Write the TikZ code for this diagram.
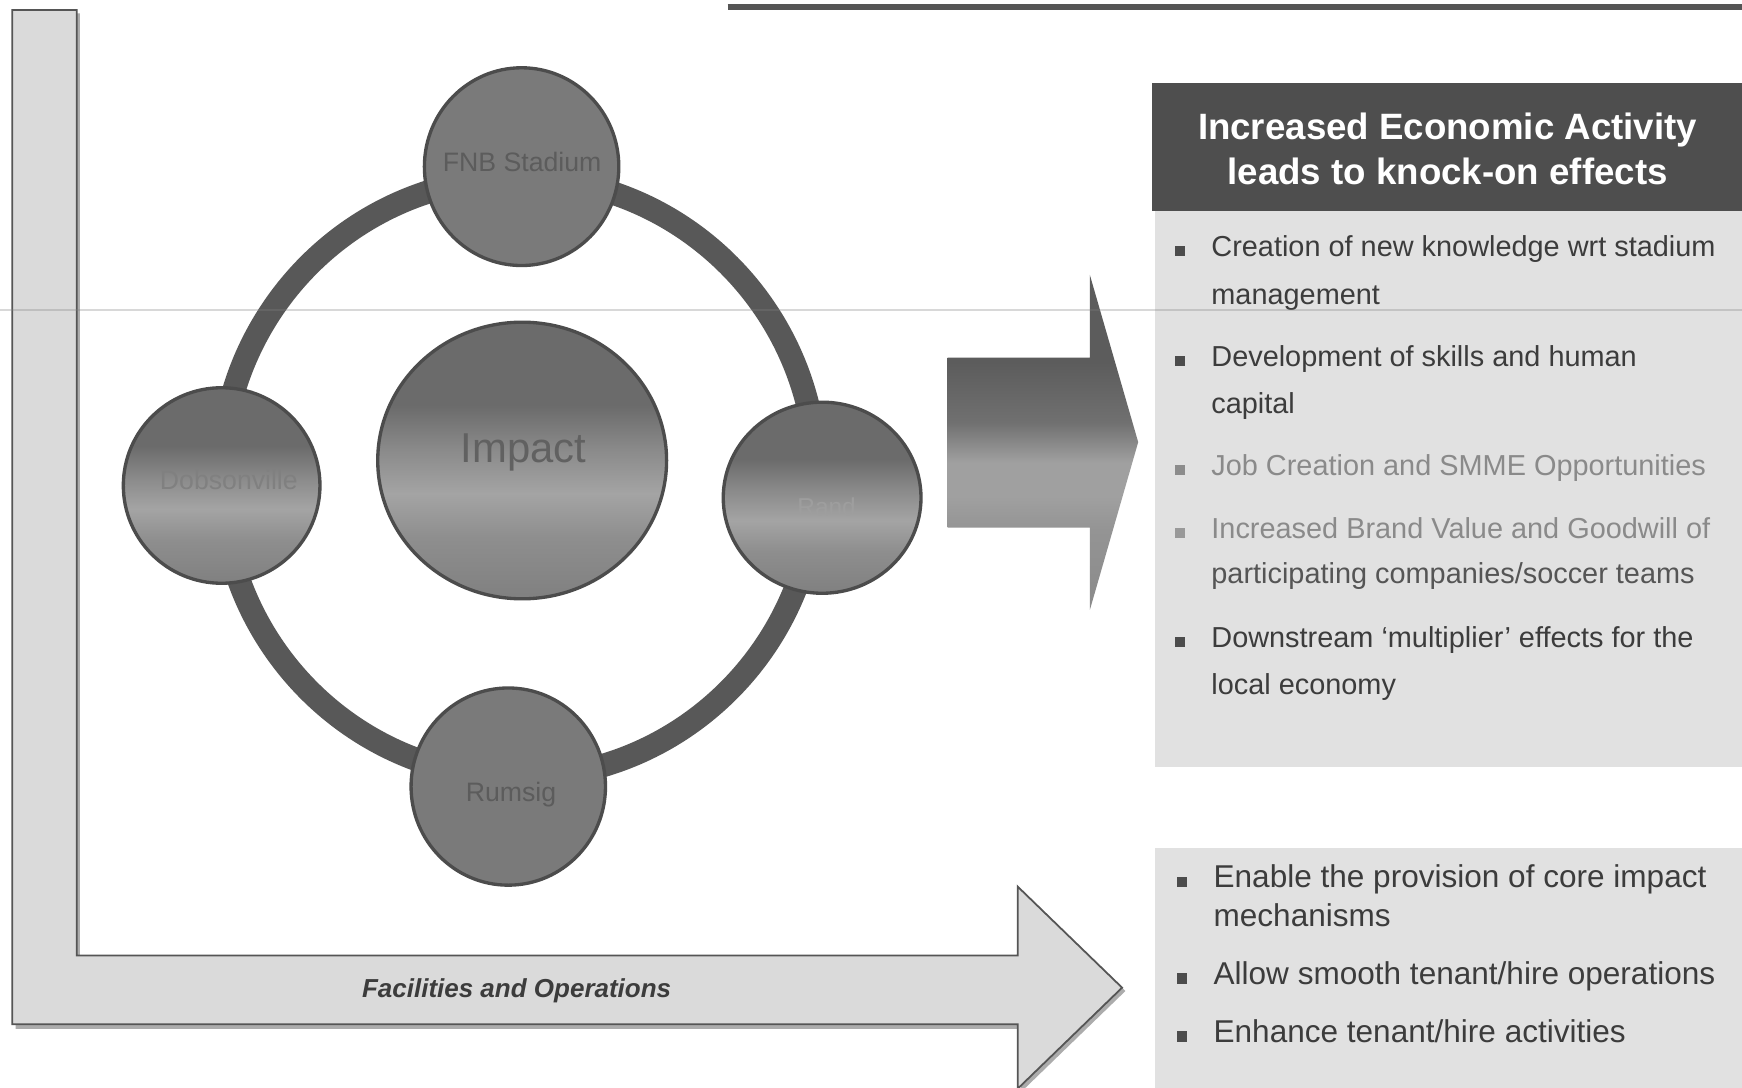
\documentclass[tikz,border=0pt]{standalone}
\usepackage{fontspec}
\setmainfont{Liberation Sans}
\usetikzlibrary{shapes.geometric}
\definecolor{ringc}{HTML}{585858}
\definecolor{ballline}{HTML}{4C4C4C}
\definecolor{flatball}{HTML}{7A7A7A}
\definecolor{ballbot}{HTML}{808080}
\definecolor{balllo}{HTML}{8E8E8E}
\definecolor{balllight}{HTML}{A4A4A4}
\definecolor{ballmid}{HTML}{8A8A8A}
\definecolor{balltop}{HTML}{6B6B6B}
\definecolor{arrtop}{HTML}{5C5C5C}
\definecolor{arrmid}{HTML}{707070}
\definecolor{arrlight}{HTML}{A0A0A0}
\definecolor{arrlow}{HTML}{949494}
\definecolor{arrbot}{HTML}{8A8A8A}
\definecolor{lfill}{HTML}{DADADA}
\definecolor{lline}{HTML}{555555}
\definecolor{titlebg}{HTML}{4E4E4E}
\definecolor{panelbg}{HTML}{E1E1E1}
\definecolor{txtdark}{HTML}{3C3C3C}
\definecolor{txtlight}{HTML}{8A8A8A}
\definecolor{txtmid}{HTML}{555555}
\pgfdeclareverticalshading{ballshade}{100bp}{color(0bp)=(ballbot); color(25bp)=(ballbot); color(36bp)=(balllo); color(44bp)=(balllight); color(52bp)=(ballmid); color(60bp)=(balltop); color(75bp)=(balltop); color(100bp)=(balltop)}
\pgfdeclareverticalshading{arrowshade}{100bp}{color(0bp)=(arrbot); color(25bp)=(arrbot); color(37bp)=(arrlow); color(42bp)=(arrlight); color(47bp)=(arrlight); color(53bp)=(arrmid); color(62bp)=(arrtop); color(75bp)=(arrtop); color(100bp)=(arrtop)}
\tikzset{
  ball/.style={ellipse, draw=ballline, line width=1.5pt, shading=ballshade, inner sep=0pt},
  flatballstyle/.style={ellipse, draw=ballline, line width=1.5pt, fill=flatball, inner sep=0pt},
  balltxt/.style={inner sep=0pt, font=\fontsize{12}{14}\selectfont},
  bodytxt/.style={anchor=base west, inner sep=0pt, font=\fontsize{13}{16}\selectfont, text=txtdark},
  lowtxt/.style={anchor=base west, inner sep=0pt, font=\fontsize{14.2}{17}\selectfont, text=txtdark},
  bul/.style={fill=#1, minimum size=4.4pt, inner sep=0pt, draw=none, rectangle},
  titletxt/.style={anchor=base, inner sep=0pt, text=white, font=\fontsize{16.5}{19}\selectfont\bfseries}
}
\begin{document}
\begin{tikzpicture}[x=0.5pt,y=-0.5pt]
\useasboundingbox (0,0) rectangle (1568,979);
\fill[white] (0,0) rectangle (1568,979);
% top rule
\draw[lline, line width=2.5pt] (655,6.5) -- (1568,6.5);
% L-shaped arrow (shadow then body)
\fill[gray!65] (14,12) -- (72,12) -- (72,863) -- (919,863) -- (919,801) -- (1013,892) -- (919,983) -- (919,926) -- (14,926) -- cycle;
\draw[lline, line width=0.8pt, fill=lfill] (11,9) -- (69,9) -- (69,860) -- (916,860) -- (916,798) -- (1010,889) -- (916,980) -- (916,922) -- (11,922) -- cycle;
\node[inner sep=0pt, anchor=base, text=txtdark, font=\fontsize{11.7}{14}\selectfont\bfseries\itshape] (fo) at (465,898) {Facilities and Operations};
% ring
\coordinate (ringctr) at (467,430);
\draw[ringc, line width=10.5pt] (ringctr) ellipse [x radius=134pt, y radius=135pt];
% circles
\node[flatballstyle, minimum width=87.5pt, minimum height=89pt] (fnb) at (469.5,150) {};
\node[ball, minimum width=88.5pt, minimum height=88pt] (dob) at (199.5,437) {};
\node[ball, minimum width=130pt, minimum height=124.5pt] (imp) at (470,414.5) {};
\node[ball, minimum width=89pt, minimum height=86pt] (rand) at (740,448) {};
\node[flatballstyle, minimum width=87.5pt, minimum height=88.75pt] (rum) at (457.5,708) {};
\node[balltxt, text=black!64] (fnbl) at (470,146) {FNB Stadium};
\node[balltxt, text=black!50] (dobl) at (206,432) {Dobsonville};
\node[balltxt, text=black!62, font=\fontsize{18.8}{22}\selectfont] (impl) at (471,407.5) {Impact};
\node[balltxt, text=black!38, font=\fontsize{11}{13}\selectfont] (randl) at (744,456) {Rand};
\node[balltxt, text=black!64] (rums) at (460,715.5) {Rumsig};
% middle block arrow
\shade[shading=arrowshade] (853,322) -- (981,322) -- (981,247.5) -- (1024.5,398) -- (981,549) -- (981,475) -- (853,475) -- cycle;
% right title box
\fill[titlebg] (1037,75) rectangle (1568,190);
\node[titletxt] (t1) at (1303,126) {Increased Economic Activity};
\node[titletxt] (t2) at (1303,166.5) {leads to knock-on effects};
% upper panel
\fill[panelbg] (1040,190) rectangle (1568,690);
\node[bul=black!70] (ba) at (1062,226) {};
\node[bodytxt] (a1) at (1090,231) {Creation of new knowledge wrt stadium};
\node[bodytxt] (a2) at (1090,274) {management};
\node[bul=black!70] (bb) at (1062,325) {};
\node[bodytxt] (b1) at (1090,330) {Development of skills and human};
\node[bodytxt] (b2) at (1090,372) {capital};
\node[bul=black!45] (bc) at (1062,423) {};
\node[bodytxt, text=txtlight] (c1) at (1090,428) {Job Creation and SMME Opportunities};
\node[bul=black!40] (bd) at (1062,480) {};
\node[bodytxt, text=txtlight] (d1) at (1090,485) {Increased Brand Value and Goodwill of};
\node[bodytxt, text=txtmid] (d2) at (1090,525) {participating companies/soccer teams};
\node[bul=black!70] (be) at (1062,578) {};
\node[bodytxt] (e1) at (1090,583) {Downstream ‘multiplier’ effects for the};
\node[bodytxt] (e2) at (1090,625) {local economy};
% lower panel
\fill[panelbg] (1040,763) rectangle (1568,979);
\node[bul=black!70, minimum size=4.8pt] (bf) at (1064,794) {};
\node[lowtxt] (f1) at (1092,799) {Enable the provision of core impact};
\node[lowtxt] (f2) at (1092,834) {mechanisms};
\node[bul=black!70, minimum size=4.8pt] (bg) at (1064,881) {};
\node[lowtxt] (g1) at (1092,886.5) {Allow smooth tenant/hire operations};
\node[bul=black!70, minimum size=4.8pt] (bh) at (1064,933) {};
\node[lowtxt] (h1) at (1092,938) {Enhance tenant/hire activities};
% faint scan line across the whole page
\draw[gray, opacity=0.3, line width=0.5pt] (0,279) -- (1568,279);
\end{tikzpicture}
\end{document}
